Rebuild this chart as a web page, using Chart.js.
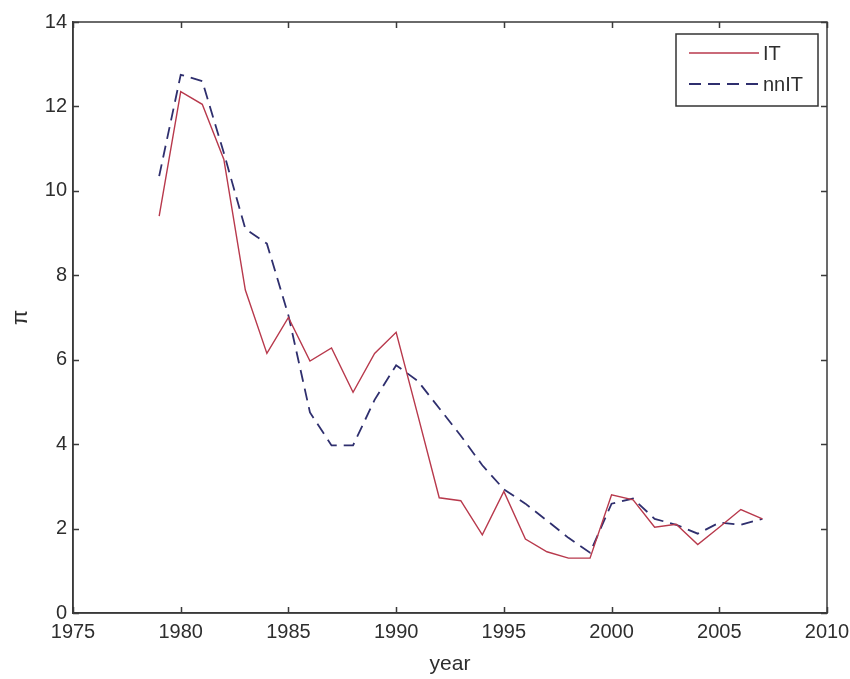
<!DOCTYPE html>
<html>
<head>
<meta charset="utf-8">
<script src="https://cdn.jsdelivr.net/npm/chart.js@4.4.1/dist/chart.umd.min.js"></script>
<style>
  html, body { margin: 0; padding: 0; background: #fff; }
  #wrap { width: 850px; height: 679px; position: relative; }
</style>
</head>
<body>
<div id="wrap"><canvas id="c" width="850" height="679"></canvas></div>
<script>
// ---- data ----
const years = [1979,1980,1981,1982,1983,1984,1985,1986,1987,1988,1989,1990,1991,1992,1993,1994,1995,1996,1997,1998,1999,2000,2001,2002,2003,2004,2005,2006,2007];
const IT    = [9.4,12.35,12.05,10.75,7.65,6.15,7.0,5.97,6.28,5.23,6.15,6.65,4.7,2.73,2.66,1.85,2.88,1.75,1.45,1.3,1.3,2.8,2.68,2.03,2.1,1.62,2.03,2.45,2.23];
const nnIT  = [10.35,12.75,12.6,10.9,9.1,8.75,7.05,4.75,3.97,3.97,5.05,5.87,5.5,4.85,4.2,3.5,2.93,2.59,2.19,1.78,1.43,2.59,2.71,2.23,2.09,1.88,2.14,2.09,2.23];
const seriesNames = ['IT', 'nnIT'];
const xTicks = [1975,1980,1985,1990,1995,2000,2005,2010];
const yTicks = [0,2,4,6,8,10,12,14];

const FONT = "'Liberation Sans', Arial, sans-serif";
const AXIS = '#3a3a3a';
const TXT = '#2e2e2e';

const toPts = (vals) => years.map((y, i) => ({ x: y, y: vals[i] }));

const frame = {
  id: 'frame',
  afterDatasetsDraw(chart) {
    const { ctx, chartArea: a, scales: { x, y } } = chart;
    ctx.save();
    ctx.strokeStyle = AXIS;
    ctx.lineWidth = 1.5;
    ctx.strokeRect(a.left, a.top, a.right - a.left, a.bottom - a.top);
    const L = 6;
    ctx.beginPath();
    xTicks.forEach(v => {
      const px = Math.round(x.getPixelForValue(v)) + 0.5;
      ctx.moveTo(px, a.bottom); ctx.lineTo(px, a.bottom - L);
      ctx.moveTo(px, a.top); ctx.lineTo(px, a.top + L);
    });
    yTicks.forEach(v => {
      const py = Math.round(y.getPixelForValue(v)) + 0.5;
      ctx.moveTo(a.left, py); ctx.lineTo(a.left + L, py);
      ctx.moveTo(a.right, py); ctx.lineTo(a.right - L, py);
    });
    ctx.stroke();

    // legend box
    const bx = 676, by = 34, bw = 142, bh = 72;
    ctx.fillStyle = '#fff';
    ctx.fillRect(bx, by, bw, bh);
    ctx.strokeStyle = '#333';
    ctx.lineWidth = 1.5;
    ctx.strokeRect(bx, by, bw, bh);
    chart.data.datasets.forEach((ds, i) => {
      const ly = by + 19 + i * 31;
      ctx.beginPath();
      ctx.strokeStyle = ds.borderColor;
      ctx.lineWidth = ds.borderWidth;
      ctx.setLineDash(ds.borderDash || []);
      ctx.moveTo(689, ly); ctx.lineTo(759, ly);
      ctx.stroke();
      ctx.setLineDash([]);
      ctx.fillStyle = TXT;
      ctx.font = '20px ' + FONT;
      ctx.textBaseline = 'middle';
      ctx.textAlign = 'left';
      ctx.fillText(ds.label, 763, ly + 1);
    });
    ctx.restore();
  }
};

new Chart(document.getElementById('c'), {
  type: 'line',
  data: {
    datasets: [
      { label: seriesNames[0], data: toPts(IT), borderColor: '#b8394c', borderWidth: 1.4, pointRadius: 0, tension: 0, fill: false },
      { label: seriesNames[1], data: toPts(nnIT), borderColor: '#2f2f6e', borderWidth: 1.8, borderDash: [12, 7], pointRadius: 0, tension: 0, fill: false }
    ]
  },
  options: {
    responsive: false,
    animation: false,
    devicePixelRatio: 1,
    layout: { padding: { top: 22, right: 23, left: 0, bottom: 0 }, autoPadding: false },
    plugins: { legend: { display: false }, tooltip: { enabled: false } },
    scales: {
      x: {
        type: 'linear', min: 1975, max: 2010,
        afterBuildTicks: (s) => { s.ticks = xTicks.map(v => ({ value: v })); },
        afterFit: (s) => { s.height = 66; s.paddingLeft = 0; s.paddingRight = 0; },
        ticks: { callback: (v) => String(v), color: TXT, font: { family: FONT, size: 20 }, padding: 7, maxRotation: 0 },
        grid: { display: true, drawOnChartArea: false, drawTicks: false },
        border: { display: true, color: AXIS, width: 1.5 },
        title: { display: true, text: 'year', color: TXT, font: { family: FONT, size: 21 }, padding: { top: 0, bottom: 2 } }
      },
      y: {
        type: 'linear', min: 0, max: 14,
        afterBuildTicks: (s) => { s.ticks = yTicks.map(v => ({ value: v })); },
        afterFit: (s) => { s.width = 73; s.paddingTop = 0; s.paddingBottom = 0; },
        ticks: { callback: (v) => String(v), color: TXT, font: { family: FONT, size: 20 }, padding: 6 },
        grid: { display: true, drawOnChartArea: false, drawTicks: false },
        border: { display: true, color: AXIS, width: 1.5 },
        title: { display: true, text: 'π', color: TXT, font: { family: FONT, size: 22 }, padding: { top: 8, bottom: 0 } }
      }
    }
  },
  plugins: [frame]
});
</script>
</body>
</html>
